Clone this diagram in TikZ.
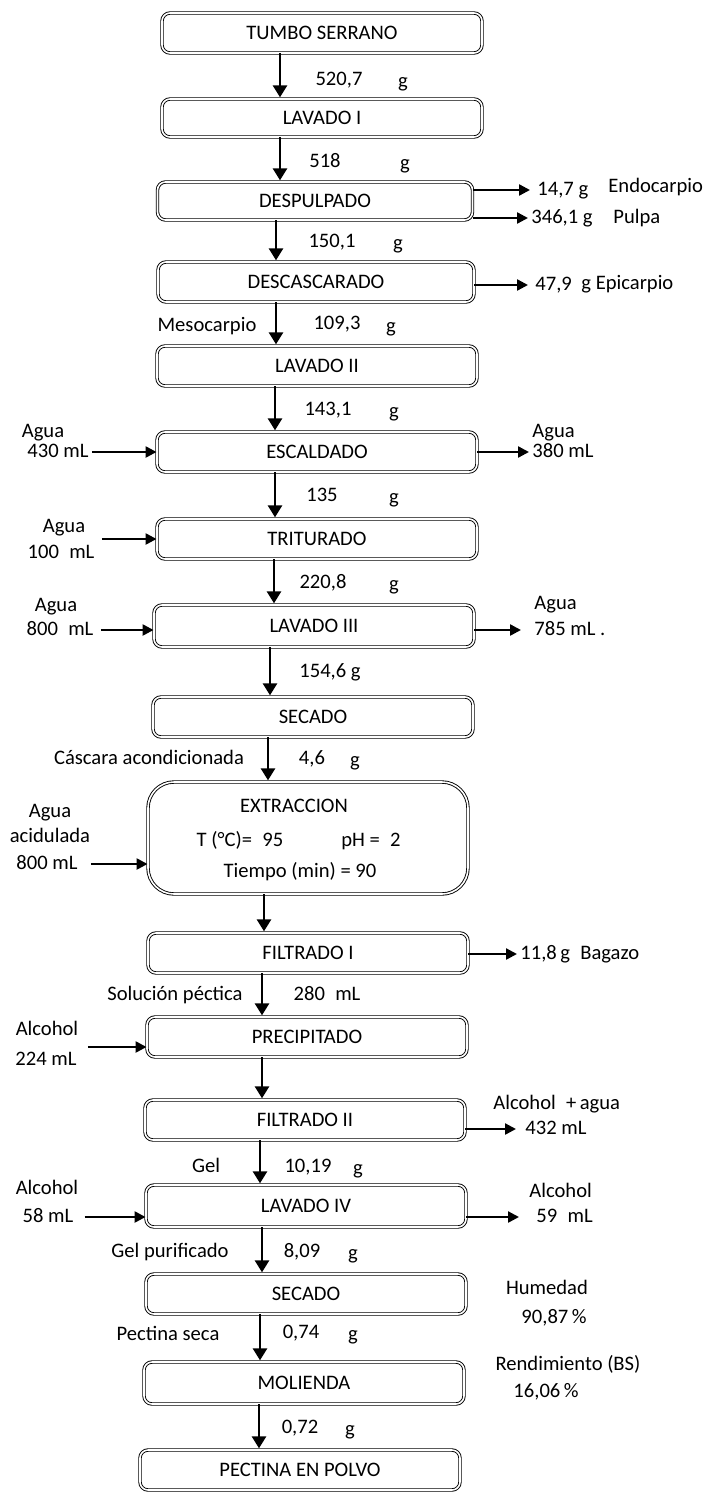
\documentclass[tikz,border=0pt]{standalone}
\usepackage{fontspec}
\setmainfont{Carlito}
\usetikzlibrary{arrows.meta}

\def\letra{\fontsize{10.3}{12}\selectfont}

\begin{document}
\begin{tikzpicture}[
	x=0.5pt, y=-0.5pt,
	etapa/.style={draw=black, double=white, double distance=0.8pt, line width=0.45pt, rounded corners=4pt, minimum width=160pt, minimum height=20pt, inner sep=0pt, font=\letra},
	flecha/.style={line width=1.3pt, shorten >=0.6pt, -{Triangle[length=6pt,width=7pt]}},
	lado/.style={line width=1.2pt, -{Triangle[length=5.5pt,width=5.5pt]}},
	texto/.style={inner sep=1.5pt, text height=1.6ex, text depth=0.35ex, font=\letra},
	]
	
	\useasboundingbox (0,0) rectangle (707,1494);
	
	%% ── etapas ─────────────────────────────────────────────
	\node[etapa](tumbo)at(322,33){TUMBO SERRANO};
	\node[etapa,minimum height=19pt](lavI)at(322,118){LAVADO I};
	\node[etapa,minimum width=157.5pt,minimum height=19pt](despulp)at(315,201){DESPULPADO};
	\node[etapa,minimum width=158pt](descasc)at(316,282){DESCASCARADO};
	\node[etapa](lavII)at(317,366){LAVADO II};
	\node[etapa](escald)at(317,452){ESCALDADO};
	\node[etapa](trit)at(317,539){TRITURADO};
	\node[etapa,minimum height=21pt](lavIII)at(314,626){LAVADO III};
	\node[etapa](secI)at(313,717){SECADO};
	\node[etapa,minimum height=56pt,rounded corners=13pt](extr)at(308,838){};
	\node[etapa](filtI)at(308,953){FILTRADO I};
	\node[etapa](precip)at(307,1037){PRECIPITADO};
	\node[etapa](filtII)at(305,1120){FILTRADO II};
	\node[etapa,minimum height=21pt](lavIV)at(306,1206){LAVADO IV};
	\node[etapa](secII)at(306,1294){SECADO};
	\node[etapa,minimum height=21pt](mol)at(304,1383){MOLIENDA};
	\node[etapa](polvo)at(300,1470){PECTINA EN POLVO};
	
	%% ── condiciones de extraccion ──────────────────────────
	\node[texto](extrT)at(294,807){EXTRACCION};
	\node[texto](temp)at(240,841){T (°C)=\enspace 95};
	\node[texto](ph)at(371,841){pH =\enspace 2};
	\node[texto](tiempo)at(300,872){Tiempo (min) = 90};
	
	%% ── flujo principal ────────────────────────────────────
	\foreach \a/\b/\x in {tumbo/lavI/280, lavI/despulp/280, despulp/descasc/276, descasc/lavII/276, lavII/escald/275, escald/trit/275, trit/lavIII/274, lavIII/secI/270, secI/extr/268, extr/filtI/264, filtI/precip/262, precip/filtII/262, filtII/lavIV/260, lavIV/secII/262, secII/mol/260, mol/polvo/259}
	\draw[flecha](\a.south -| \x,0)--(\b.north -| \x,0);
	
	\node[texto](m1)at(339,80){520,7};
	\node[texto](m2)at(325,162){518};
	\node[texto](m3)at(332,242){150,1};
	\node[texto](m4)at(337,324){109,3};
	\node[texto](m5)at(328,410){143,1};
	\node[texto](m6)at(322,496){135};
	\node[texto](m7)at(323,583){220,8};
	\node[texto](m8)at(330,672){154,6 g};
	\node[texto](m9)at(312,759){4,6};
	\node[texto](m10)at(327,995){280\enspace mL};
	\node[texto](m11)at(308,1167){10,19};
	\node[texto](m12)at(302,1252){8,09};
	\node[texto](m13)at(301,1333){0,74};
	\node[texto](m14)at(300,1428){0,72};
	\foreach \x/\y [count=\i] in {403/82, 405/164, 398/244, 391/327, 394/412, 394/498, 394/585, 355/761, 358/1169, 353/1254, 353/1335, 350/1430}
	\node[texto](g\i)at(\x,\y){g};
	
	\node[texto](meso)at(207,326){Mesocarpio};
	\node[texto](cascara)at(149,759){Cáscara acondicionada};
	\node[texto](solucion)at(175,995){Solución péctica};
	\node[texto](gel)at(206,1167){Gel};
	\node[texto](gelpur)at(170,1252){Gel purificado};
	\node[texto](pecseca)at(168,1335){Pectina seca};
	
	%% ── entradas ───────────────────────────────────────────
	\node[texto](aguaE)at(43,432){Agua};
	\node[texto](ml430)at(58,452){430 mL};
	\draw[lado](ml430.east)--(escald.west |- ml430.east);
	
	\node[texto](aguaT)at(64,527){Agua};
	\node[texto](ml100)at(61,553){100\enspace mL};
	\draw[lado,shorten <=2pt](trit.west -| ml100.east)--(trit.west);
	
	\node[texto](aguaL)at(56,606){Agua};
	\node[texto](ml800a)at(60,630){800\enspace mL};
	\draw[lado,shorten <=2pt](ml800a.east)--(lavIII.west |- ml800a.east);
	
	\node[texto](aguaX)at(50,812){Agua};
	\node[texto](acid)at(50,837){acidulada};
	\node[texto](ml800b)at(47,864){800 mL};
	\draw[lado,shorten <=5pt](ml800b.east)--(extr.west |- ml800b.east);
	
	\node[texto](alcP)at(47,1030){Alcohol};
	\node[texto](ml224)at(46,1060){224 mL};
	\draw[lado,shorten <=4pt]([yshift=-5pt]precip.west -| ml224.east)--([yshift=-5pt]precip.west);
	
	\node[texto](alcL)at(47,1189){Alcohol};
	\node[texto](ml58)at(48,1217){58 mL};
	\draw[lado,shorten <=4pt](ml58.east)--(lavIV.west |- ml58.east);
	
	%% ── salidas ────────────────────────────────────────────
	\node[texto,anchor=west](endoG)at(534,190){14,7 g};
	\node[texto,anchor=west](endo)at(605,187){Endocarpio};
	\draw[lado,shorten >=2pt](despulp.east |- endoG.west)--(endoG.west);
	\node[texto,anchor=west](pulpaG)at(528,218){346,1 g};
	\node[texto,anchor=west](pulpa)at(610,218){Pulpa};
	\draw[lado](despulp.east |- pulpaG.west)--(pulpaG.west);
	
	\node[texto,anchor=west](epiG)at(532,285){47,9};
	\node[texto,anchor=west](epi)at(578,284){g Epicarpio};
	\draw[lado,shorten >=2pt](descasc.east |- epiG.west)--(epiG.west);
	
	\node[texto,anchor=west](aguaE2)at(529,432){Agua};
	\node[texto,anchor=west](ml380)at(529,452){380 mL};
	\draw[lado](escald.east |- ml380.west)--(ml380.west);
	
	\node[texto,anchor=west](aguaL2)at(531,604){Agua};
	\node[texto,anchor=west](ml785)at(531,630){785 mL .};
	\draw[lado,shorten >=5pt](lavIII.east |- ml785.west)--(ml785.west);
	
	\node[texto,anchor=west](bagazo)at(517,954){11,8\,g\enspace Bagazo};
	\draw[lado](filtI.east |- bagazo.west)--(bagazo.west);
	
	\node[texto,anchor=west](alcagua)at(490,1104){Alcohol\enspace +\,agua};
	\node[texto,anchor=west](ml432)at(522,1129){432 mL};
	\draw[lado,shorten >=3pt](filtII.east |- ml432.west)--(ml432.west);
	
	\node[texto,anchor=west](alcL2)at(526,1192){Alcohol};
	\node[texto,anchor=west](ml59)at(533,1217){59\enspace mL};
	\draw[lado,shorten >=7pt](lavIV.east |- ml59.west)--(ml59.west);
	
	%% ── resultados ─────────────────────────────────────────
	\node[texto](hum)at(547,1289){Humedad};
	\node[texto](humval)at(554,1318){90,87\,\%};
	\node[texto](rend)at(568,1365){Rendimiento (BS)};
	\node[texto](rendval)at(546,1392){16,06\,\%};
	
\end{tikzpicture}
\end{document}
